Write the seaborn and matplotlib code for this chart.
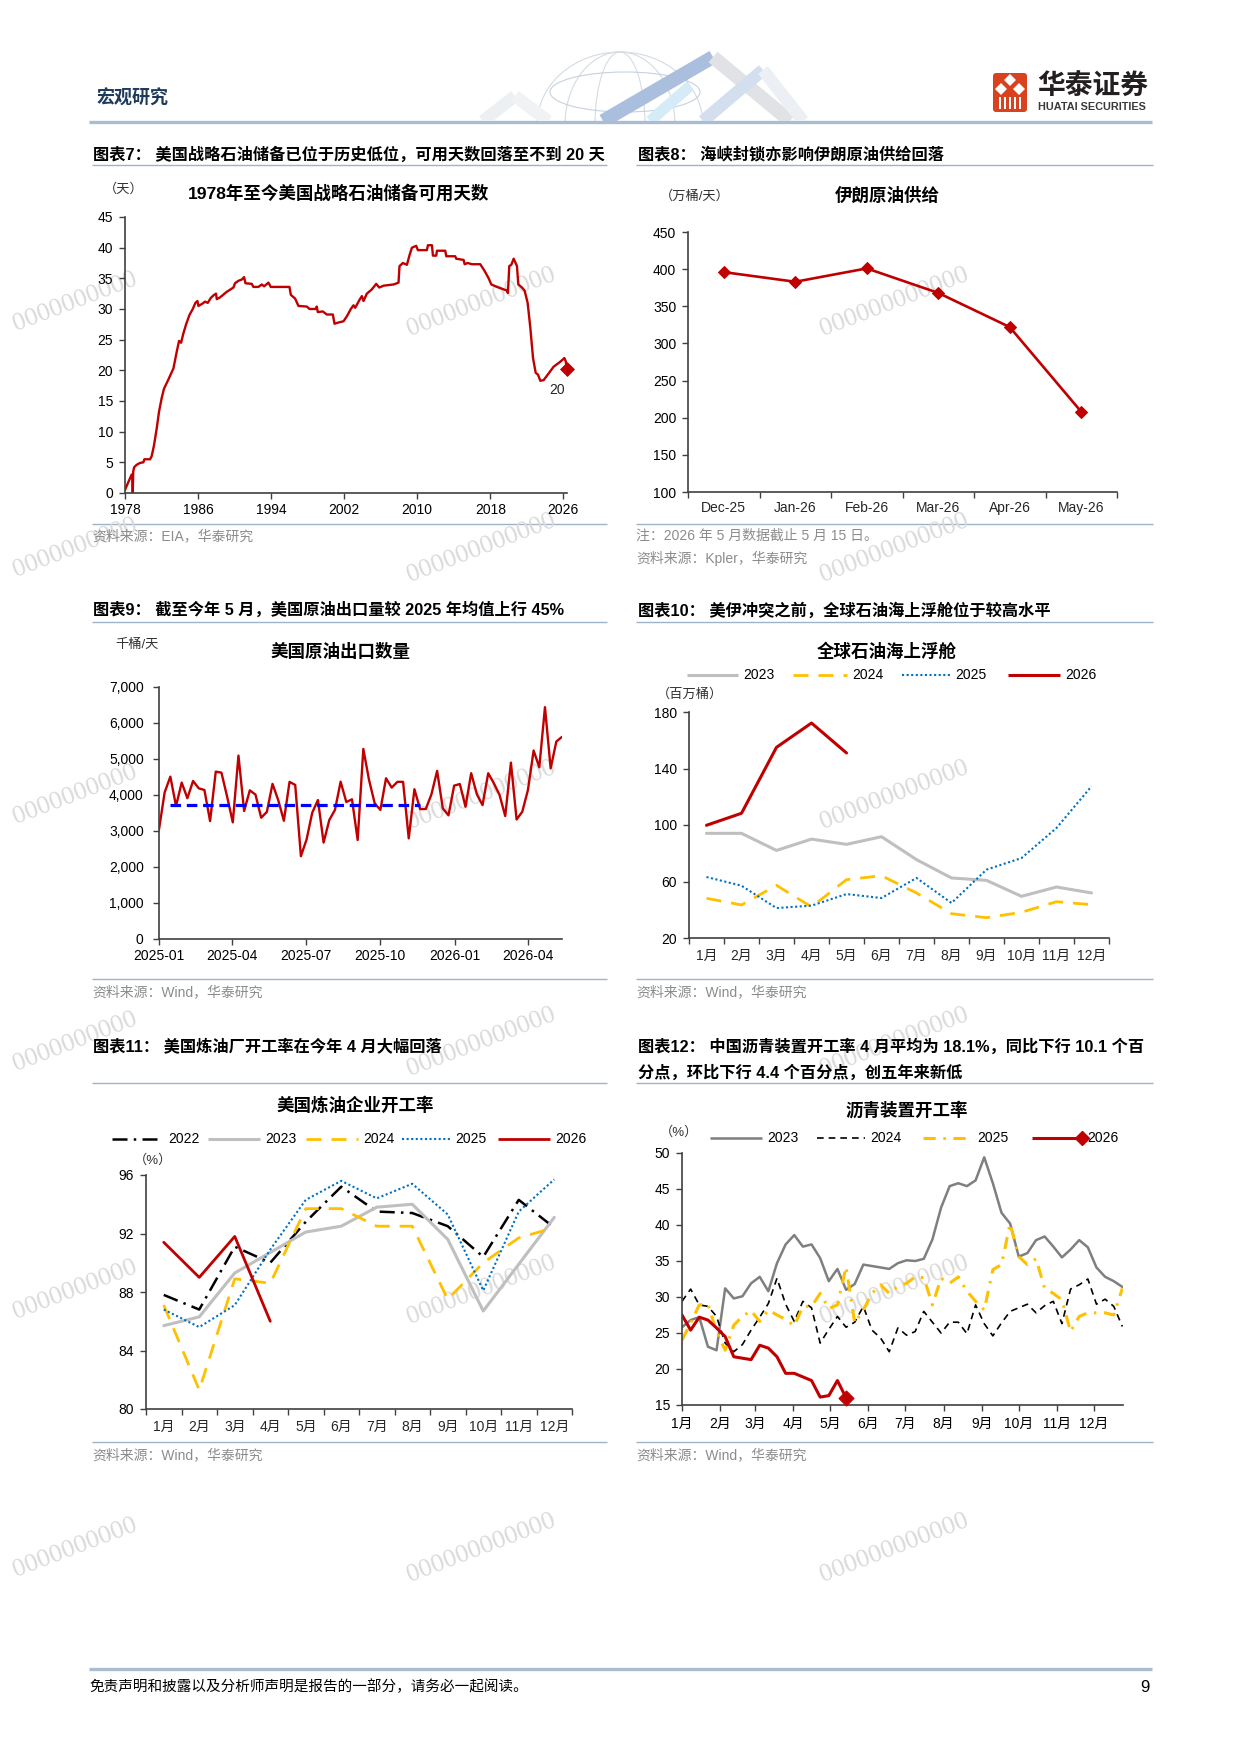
import numpy as np
import pandas as pd
import matplotlib
matplotlib.use("Agg")
import matplotlib.pyplot as plt
import matplotlib.dates as mdates
from matplotlib.patches import Ellipse, Polygon, Rectangle, FancyBboxPatch
from matplotlib.ticker import FuncFormatter
import seaborn as sns

# ---------------- data ----------------
# 图表7: 美国战略石油储备可用天数
spr_year = [1978.00, 1978.37, 1978.73, 1978.80, 1978.85, 1978.90, 1979.00, 1979.28, 1979.64, 1980.01,
            1980.12, 1980.74, 1980.92, 1981.18, 1981.47, 1981.73, 1982.02, 1982.27, 1982.75, 1983.30,
            1983.66, 1983.92, 1984.14, 1984.39, 1984.69, 1985.05, 1985.42, 1985.71, 1985.93, 1986.04,
            1986.40, 1986.77, 1987.06, 1987.39, 1987.75, 1987.97, 1988.05, 1988.41, 1989.14, 1989.87,
            1990.05, 1990.42, 1990.79, 1991.04, 1991.19, 1991.88, 1992.06, 1992.61, 1992.98, 1993.23,
            1993.71, 1993.96, 1994.99, 1996.01, 1996.16, 1996.63, 1996.99, 1997.91, 1998.20, 1998.86,
            1999.00, 1999.11, 1999.66, 2000.10, 2000.76, 2000.94, 2001.38, 2001.93, 2002.29, 2002.73,
            2003.02, 2003.21, 2003.68, 2003.94, 2004.12, 2004.48, 2005.03, 2005.51, 2005.84, 2006.31,
            2007.41, 2007.95, 2008.06, 2008.43, 2008.87, 2009.16, 2009.42, 2009.89, 2010.07, 2011.06,
            2011.17, 2011.61, 2011.72, 2012.08, 2012.16, 2013.07, 2013.18, 2014.16, 2014.27, 2015.08,
            2015.19, 2015.52, 2015.99, 2016.90, 2017.34, 2017.82, 2018.11, 2018.73, 2019.28, 2019.83,
            2019.93, 2020.08, 2020.30, 2020.56, 2020.92, 2021.07, 2021.47, 2021.76, 2022.09, 2022.38,
            2022.68, 2022.97, 2023.22, 2023.48, 2023.84, 2024.39, 2024.94, 2025.49, 2025.74, 2026.11,
            2026.26, 2026.40]
spr_days = [0.5, 1.8, 3.0, 3.0, 0.0, 3.5, 4.2, 4.6, 4.9, 5.0,
            5.5, 5.5, 6.0, 7.8, 10.5, 13.3, 15.5, 17.0, 18.5, 20.3,
            23.0, 24.8, 24.5, 26.0, 27.5, 29.0, 30.0, 31.0, 31.3, 30.5,
            30.8, 31.2, 31.0, 31.8, 32.3, 32.5, 31.6, 31.9, 32.8, 33.5,
            34.2, 34.6, 34.8, 35.2, 34.2, 34.1, 33.6, 33.6, 34.0, 33.7,
            34.3, 33.6, 33.6, 33.6, 32.3, 31.7, 30.5, 30.4, 30.0, 30.0,
            30.4, 29.5, 29.6, 29.1, 29.1, 27.6, 27.8, 28.0, 28.8, 30.0,
            30.6, 30.2, 31.5, 32.1, 31.3, 32.5, 33.2, 34.1, 33.5, 33.8,
            34.0, 34.3, 37.0, 37.5, 37.2, 38.8, 40.0, 40.3, 39.6, 39.6,
            40.4, 40.4, 38.7, 38.7, 39.5, 39.5, 38.6, 38.6, 38.2, 38.0,
            37.3, 37.5, 37.3, 37.3, 36.3, 35.0, 34.0, 33.6, 33.3, 33.0,
            32.6, 37.0, 37.2, 38.2, 37.0, 34.0, 33.5, 33.0, 31.0, 27.0,
            22.0, 19.6, 19.3, 18.3, 18.4, 19.5, 20.6, 21.2, 21.5, 22.0,
            21.5, 20.2]
spr_last_label = "20"

# 图表8: 伊朗原油供给（万桶/天）
iran_month = ["Dec-25", "Jan-26", "Feb-26", "Mar-26", "Apr-26", "May-26"]
iran_supply = [396, 383, 401, 368, 322, 208]

# 图表9: 美国原油出口数量（千桶/天，周度）
export_start = "2025-01-01"
us_export = [3045, 4075, 4510, 3695, 4345, 3910, 4390, 4185, 4140, 3275,
             4650, 4620, 3955, 3240, 5095, 3555, 4130, 4010, 3370, 3530,
             4310, 3860, 3285, 4365, 4280, 2300, 2765, 3510, 3860, 2680,
             3305, 3585, 4370, 3805, 3880, 2750, 5280, 4420, 3770, 3585,
             4465, 4205, 4365, 4365, 2795, 4160, 3610, 3610, 4020, 4670,
             3630, 3435, 4260, 4305, 3675, 4605, 4020, 3720, 4605, 4325,
             4000, 3415, 4900, 3320, 3535, 4140, 5235, 4770, 6440, 4740,
             5485, 5615]
export_avg_2025 = 3720

# 图表10: 全球石油海上浮舱（百万桶）
months = ["1月", "2月", "3月", "4月", "5月", "6月", "7月", "8月", "9月", "10月", "11月", "12月"]
float_2023 = [94.1, 94.1, 82.0, 90.0, 86.3, 91.7, 75.5, 62.5, 60.8, 49.5, 56.1, 51.9]
float_2024 = [48.1, 43.4, 57.3, 42.0, 61.3, 64.1, 51.9, 37.2, 34.4, 38.2, 45.7, 43.6]
float_2025 = [63.2, 57.0, 41.2, 42.9, 51.1, 48.3, 62.5, 44.8, 68.4, 76.6, 97.9, 127.4]
float_2026 = [99.8, 108.3, 155.0, 172.2, 151.0]

# 图表11: 美国炼油企业开工率（%）
util_2022 = [87.8, 86.8, 91.1, 90.0, 92.8, 95.2, 93.5, 93.4, 92.5, 90.4, 94.3, 92.4]
util_2023 = [85.7, 86.3, 89.3, 90.7, 92.1, 92.5, 93.8, 94.0, 91.6, 86.7, 89.9, 93.1]
util_2024 = [87.1, 81.3, 88.9, 88.6, 93.7, 93.7, 92.5, 92.5, 87.5, 90.0, 91.7, 92.4]
util_2025 = [86.8, 85.6, 87.1, 90.9, 94.3, 95.6, 94.4, 95.4, 93.3, 88.1, 93.5, 95.7]
util_2026 = [91.4, 89.0, 91.8, 86.0]

# 图表12: 沥青装置开工率（%，周度）
asph_2023 = [25.8, 26.8, 27.2, 23.1, 22.6, 31.2, 29.8, 30.1, 31.9, 32.8,
             30.8, 34.7, 37.3, 38.6, 37.0, 37.3, 35.4, 32.2, 33.9, 31.0,
             31.8, 34.5, 34.3, 34.1, 33.9, 34.7, 35.1, 35.0, 35.3, 38.0,
             42.4, 45.4, 45.8, 45.4, 46.2, 49.4, 45.8, 41.7, 40.2, 35.6,
             36.1, 37.9, 38.4, 37.0, 35.5, 36.6, 37.9, 36.9, 34.1, 32.8,
             32.2, 31.4]
asph_2024 = [29.4, 31.1, 28.9, 28.7, 27.3, 23.6, 22.4, 23.4, 25.4, 27.2,
             29.1, 32.6, 29.0, 26.6, 29.4, 28.5, 23.6, 25.5, 27.3, 25.8,
             26.5, 28.7, 25.4, 24.3, 22.4, 25.7, 24.7, 25.2, 28.0, 26.5,
             25.0, 26.5, 26.5, 24.9, 28.9, 26.3, 24.6, 26.4, 28.0, 28.5,
             29.0, 27.8, 28.8, 29.4, 26.3, 31.1, 31.7, 32.5, 29.0, 29.7,
             28.7, 25.9]
asph_2025 = [24.0, 26.4, 28.9, 29.0, 25.2, 22.6, 26.1, 27.3, 28.1, 26.6,
             28.2, 27.5, 26.9, 26.0, 28.7, 28.7, 30.5, 28.4, 28.9, 34.2,
             26.4, 28.2, 30.5, 31.7, 30.5, 31.5, 31.9, 32.8, 32.7, 28.9,
             32.6, 31.9, 32.8, 30.8, 29.4, 28.2, 33.8, 34.5, 40.2, 35.6,
             34.5, 35.3, 31.2, 30.5, 29.6, 25.2, 27.3, 27.8, 27.8, 27.8,
             27.5, 31.2]
asph_2026 = [27.5, 25.4, 27.2, 26.8, 25.7, 24.5, 21.7, 21.5, 21.3, 23.3,
             22.9, 21.7, 19.4, 19.4, 18.9, 18.4, 16.1, 16.3, 18.4, 16.0]

# ---------------- style ----------------
W, H = 1240, 1753
CJK = "Noto Sans CJK SC"
LAT = "Liberation Sans"
RED = "#C00000"
YEL = "#FFC000"
BLU = "#0070C0"
LGRAY = "#BFBFBF"
RULE = "#9FB3C8"

sns.set_style("ticks")
plt.rcParams["font.family"] = [LAT, CJK]
plt.rcParams["axes.unicode_minus"] = False

fig = plt.figure(figsize=(W / 100, H / 100), dpi=100)

# full-page overlay in pixel coordinates (behind the charts)
ov = fig.add_axes([0, 0, 1, 1], zorder=-1)
ov.set_xlim(0, W)
ov.set_ylim(H, 0)
ov.axis("off")


def txt(x, y, s, size=10, weight="normal", color="black", ha="left", va="center", **kw):
    ov.text(x, y, s, fontsize=size, fontweight=weight, color=color, ha=ha, va=va,
            family=[LAT, CJK], **kw)


def rule(x0, x1, y, lw=1.0, color=RULE):
    ov.plot([x0, x1], [y, y], color=color, lw=lw, solid_capstyle="butt")


def leg(x0, x1, y, label, color, lw, ls="-", marker=None):
    ov.plot([x0, x1], [y, y], color=color, lw=lw, linestyle=ls,
            solid_capstyle="butt", dash_capstyle="butt")
    if marker:
        ov.plot([x1], [y], marker=marker, color=color, ms=7)
    txt(x1 + 5, y, label, size=10)


def add_ax(l, t, r, b):
    ax = fig.add_axes([l / W, 1 - b / H, (r - l) / W, (b - t) / H])
    ax.set_facecolor("none")
    for s in ("top", "right"):
        ax.spines[s].set_visible(False)
    for s in ("left", "bottom"):
        ax.spines[s].set_color("#404040")
        ax.spines[s].set_linewidth(1.2)
    ax.tick_params(axis="both", direction="out", length=4, width=1, color="#404040",
                   labelsize=10, labelcolor="black")
    ax.tick_params(axis="y", pad=4.5)
    ax.grid(False)
    return ax


def cat_axis(ax, labels, pad=8):
    n = len(labels)
    ax.set_xlim(-0.5, n - 0.5)
    ax.set_xticks(np.arange(n + 1) - 0.5)
    ax.set_xticklabels([])
    ax.set_xticks(np.arange(n), minor=True)
    ax.set_xticklabels(labels, minor=True)
    ax.tick_params(axis="x", which="minor", length=0, pad=pad, labelsize=10)


# ---------------- page header / decoration ----------------
txt(96, 99, "宏观研究", size=13, weight="bold", color="#1F3B5C")
rule(89, 1152, 122, lw=2.4, color="#A9BCD0")
rule(89, 1152, 1669, lw=2.4, color="#A9BCD0")
txt(89, 1687, "免责声明和披露以及分析师声明是报告的一部分，请务必一起阅读。", size=10.5, style="italic")
txt(1150, 1687, "9", size=12, ha="right")

clip = Rectangle((460, 20), 380, 101, transform=ov.transData)
for (x0, y0, x1, y1, c, w) in [(483, 121, 515, 96, "#EDF0F3", 9), (515, 96, 548, 121, "#F0F2F4", 9),
                                (650, 121, 690, 86, "#D5EBF8", 8), (603, 121, 713, 57, "#A9BFDD", 10),
                                (713, 57, 790, 121, "#E0E2E5", 10), (703, 121, 763, 70, "#D3DFEF", 9),
                                (763, 70, 803, 121, "#ECEFF3", 9)]:
    ln, = ov.plot([x0, x1], [y0, y1], color=c, lw=w, solid_capstyle="butt")
    ln.set_clip_path(clip)
for w_, h_ in [(166, 146), (110, 146), (50, 146)]:
    e = Ellipse((620, 125), w_, h_, fill=False, ec="#D5DBE2", lw=0.8)
    ov.add_patch(e)
    e.set_clip_path(clip)
e = Ellipse((625, 92), 150, 40, fill=False, ec="#C7D2DF", lw=0.8)
ov.add_patch(e)
e.set_clip_path(clip)

ov.add_patch(FancyBboxPatch((993, 73), 34, 39, boxstyle="round,pad=0,rounding_size=3",
                            fc="#D8421F", ec="none"))
for cx, cy in [(1010, 80), (1001, 89), (1019, 89)]:
    ov.add_patch(Polygon([(cx, cy - 6), (cx + 6, cy), (cx, cy + 6), (cx - 6, cy)], fc="white", ec="none"))
for bx in [1000, 1005, 1010, 1015, 1020]:
    ov.add_patch(Rectangle((bx - 1, 97), 1.8, 12, fc="white", ec="none"))
ov.text(1037, 86, "华泰证券", fontsize=20, fontweight="bold", color="#231F20", va="center", family=[CJK])
ov.text(1038, 107, "HUATAI SECURITIES", fontsize=7.8, fontweight="bold", color="#3A3A3A",
        va="center", family=[LAT])

# watermarks
for wy in [302, 548, 795, 1042, 1290, 1548]:
    ov.text(140, wy, "0000000000", fontsize=19, color="#DADADA", rotation=21,
            ha="right", va="center", family=["Liberation Serif"])
    for wx in [481, 894]:
        ov.text(wx, wy, "000000000000", fontsize=19, color="#DADADA", rotation=21,
                ha="center", va="center", family=["Liberation Serif"])

# ---------------- section titles and notes ----------------
TS = 11.7
txt(93, 155, "图表7： 美国战略石油储备已位于历史低位，可用天数回落至不到 20 天", size=TS, weight="bold")
rule(92, 607, 165)
txt(638, 155, "图表8： 海峡封锁亦影响伊朗原油供给回落", size=TS, weight="bold")
rule(636, 1153, 165)
txt(93, 610, "图表9： 截至今年 5 月，美国原油出口量较 2025 年均值上行 45%", size=TS, weight="bold")
rule(92, 607, 622)
txt(638, 610, "图表10： 美伊冲突之前，全球石油海上浮舱位于较高水平", size=TS, weight="bold")
rule(636, 1153, 622)
txt(93, 1047, "图表11： 美国炼油厂开工率在今年 4 月大幅回落", size=TS, weight="bold")
rule(92, 607, 1083)
txt(638, 1047, "图表12： 中国沥青装置开工率 4 月平均为 18.1%，同比下行 10.1 个百", size=TS, weight="bold")
txt(638, 1073, "分点，环比下行 4.4 个百分点，创五年来新低", size=TS, weight="bold")
rule(636, 1153, 1083)

SRC = "#8C8C8C"
rule(92, 607, 524)
txt(92, 536, "资料来源：EIA，华泰研究", size=10, color=SRC)
rule(636, 1153, 524)
txt(636, 536, "注：2026 年 5 月数据截止 5 月 15 日。", size=10, color=SRC)
txt(636, 558, "资料来源：Kpler，华泰研究", size=10, color=SRC)
rule(92, 607, 979)
txt(92, 992, "资料来源：Wind，华泰研究", size=10, color=SRC)
rule(636, 1153, 979)
txt(636, 992, "资料来源：Wind，华泰研究", size=10, color=SRC)
rule(92, 607, 1442)
txt(92, 1455, "资料来源：Wind，华泰研究", size=10, color=SRC)
rule(636, 1153, 1442)
txt(636, 1455, "资料来源：Wind，华泰研究", size=10, color=SRC)

# chart titles and units
CT = 12.6
txt(339, 193, "1978年至今美国战略石油储备可用天数", size=CT, weight="bold", ha="center")
txt(104, 189, "（天）", size=9.5, color="#333333")
txt(887, 195, "伊朗原油供给", size=CT, weight="bold", ha="center")
txt(660, 196, "（万桶/天）", size=9.5, color="#333333")
txt(340, 651, "美国原油出口数量", size=CT, weight="bold", ha="center")
txt(115, 645, "千桶/天", size=9.5, color="#333333")
txt(887, 651, "全球石油海上浮舱", size=CT, weight="bold", ha="center")
txt(657, 694, "（百万桶）", size=9.5, color="#333333")
txt(355, 1105, "美国炼油企业开工率", size=CT, weight="bold", ha="center")
txt(134, 1160, "（%）", size=9.5, color="#333333")
txt(907, 1110, "沥青装置开工率", size=CT, weight="bold", ha="center")
txt(660, 1132, "（%）", size=9.5, color="#333333")

# legends
DASH = (0, (5.4, 3.6))
DOT = (0, (1, 1.2))
leg(687, 738, 675, "2023", LGRAY, 2.2)
leg(793, 847, 675, "2024", YEL, 2.0, DASH)
leg(902, 950, 675, "2025", BLU, 1.5, DOT)
leg(1008, 1060, 675, "2026", RED, 2.2)

DASHDOT = (0, (6, 2.5, 1, 2.5))
leg(112, 163, 1139, "2022", "black", 1.8, DASHDOT)
leg(208, 260, 1139, "2023", LGRAY, 2.2)
leg(306, 358, 1139, "2024", YEL, 2.0, DASH)
leg(402, 450, 1139, "2025", BLU, 1.5, DOT)
leg(498, 550, 1139, "2026", RED, 2.0)

GRAY12 = "#7F7F7F"
DASH12 = (0, (4, 3))
DD12 = (0, (4, 2.5, 0.8, 2.5))
leg(710, 762, 1138, "2023", GRAY12, 1.8)
leg(817, 865, 1138, "2024", "black", 1.2, DASH12)
leg(923, 972, 1138, "2025", YEL, 2.2, DD12)
leg(1032, 1082, 1138, "2026", RED, 2.2, marker="D")

# ---------------- 图表7 ----------------
ax7 = add_ax(125, 217, 567, 493)
sns.lineplot(x=spr_year, y=spr_days, ax=ax7, color=RED, lw=1.7, estimator=None, sort=False)
sns.scatterplot(x=spr_year[-1:], y=spr_days[-1:], ax=ax7, marker="D", s=50, color=RED,
                edgecolor=RED, clip_on=False, zorder=5)
ax7.set_xlim(1978, 2026.4)
ax7.set_ylim(0, 45)
ax7.set_xticks(range(1978, 2027, 8))
ax7.set_yticks(range(0, 46, 5))
ax7.text(2025.3, 16.8, spr_last_label, ha="center", va="center", fontsize=10)
ax7.set(xlabel="", ylabel="")

# ---------------- 图表8 ----------------
ax8 = add_ax(688, 232, 1117, 492)
sns.lineplot(x=np.arange(len(iran_month)), y=iran_supply, ax=ax8, color=RED, lw=1.9,
             marker="D", markersize=6.5, markeredgecolor=RED, estimator=None)
cat_axis(ax8, iran_month, pad=6.5)
ax8.set_ylim(100, 450)
ax8.set_yticks(range(100, 451, 50))
ax8.set(xlabel="", ylabel="")

# ---------------- 图表9 ----------------
ax9 = add_ax(159, 687, 562, 939)
export_dates = pd.date_range(export_start, periods=len(us_export), freq="7D")
sns.lineplot(x=export_dates, y=us_export, ax=ax9, color=RED, lw=1.7, estimator=None)
sns.lineplot(x=[export_dates[2], export_dates[46]], y=[export_avg_2025, export_avg_2025], ax=ax9,
             color="#0000FF", lw=2.3, linestyle=(0, (3.3, 1.8)), estimator=None)
ax9.xaxis.set_major_locator(mdates.MonthLocator(bymonth=[1, 4, 7, 10]))
ax9.xaxis.set_major_formatter(mdates.DateFormatter("%Y-%m"))
ax9.set_xlim(export_dates[0], export_dates[-1])
ax9.set_ylim(0, 7000)
ax9.set_yticks(range(0, 7001, 1000))
ax9.yaxis.set_major_formatter(FuncFormatter(lambda v, p: f"{int(v):,}"))
ax9.tick_params(axis="y", pad=7)
ax9.set(xlabel="", ylabel="")

# ---------------- 图表10 ----------------
ax10 = add_ax(689, 712, 1109, 938)
for vals, c, w, ls in [(float_2023, LGRAY, 2.2, "-"), (float_2024, YEL, 2.0, DASH),
                       (float_2025, BLU, 1.5, DOT), (float_2026, RED, 2.2, "-")]:
    sns.lineplot(x=np.arange(len(vals)), y=vals, ax=ax10, color=c, lw=w, linestyle=ls, estimator=None)
cat_axis(ax10, months, pad=8)
ax10.set_ylim(20, 180)
ax10.set_yticks(range(20, 181, 40))
ax10.set(xlabel="", ylabel="")

# ---------------- 图表11 ----------------
ax11 = add_ax(146, 1175, 572, 1409)
for vals, c, w, ls in [(util_2022, "black", 1.8, DASHDOT), (util_2023, LGRAY, 2.2, "-"),
                       (util_2024, YEL, 2.0, DASH), (util_2025, BLU, 1.5, DOT),
                       (util_2026, RED, 2.0, "-")]:
    sns.lineplot(x=np.arange(len(vals)), y=vals, ax=ax11, color=c, lw=w, linestyle=ls, estimator=None)
cat_axis(ax11, months, pad=8)
ax11.set_ylim(80, 96)
ax11.set_yticks(range(80, 97, 4))
ax11.set(xlabel="", ylabel="")

# ---------------- 图表12 ----------------
ax12 = add_ax(682, 1153, 1123, 1405)
for vals, c, w, ls in [(asph_2023, GRAY12, 1.8, "-"), (asph_2024, "black", 1.2, DASH12),
                       (asph_2025, YEL, 2.2, DD12), (asph_2026, RED, 2.2, "-")]:
    sns.lineplot(x=np.arange(len(vals)) * 7, y=vals, ax=ax12, color=c, lw=w, linestyle=ls, estimator=None)
sns.scatterplot(x=[(len(asph_2026) - 1) * 7], y=asph_2026[-1:], ax=ax12, marker="D", s=60,
                color=RED, edgecolor=RED, zorder=5, clip_on=False)
month_start = pd.date_range("2023-01-01", periods=12, freq="MS").dayofyear - 1
ax12.set_xticks(month_start)
ax12.set_xticklabels(months)
ax12.tick_params(axis="x", pad=4.5)
ax12.set_xlim(0, 357.5)
ax12.set_ylim(15, 50)
ax12.set_yticks(range(15, 51, 5))
ax12.set(xlabel="", ylabel="")

fig.savefig("out.png", dpi=100, facecolor="white")
